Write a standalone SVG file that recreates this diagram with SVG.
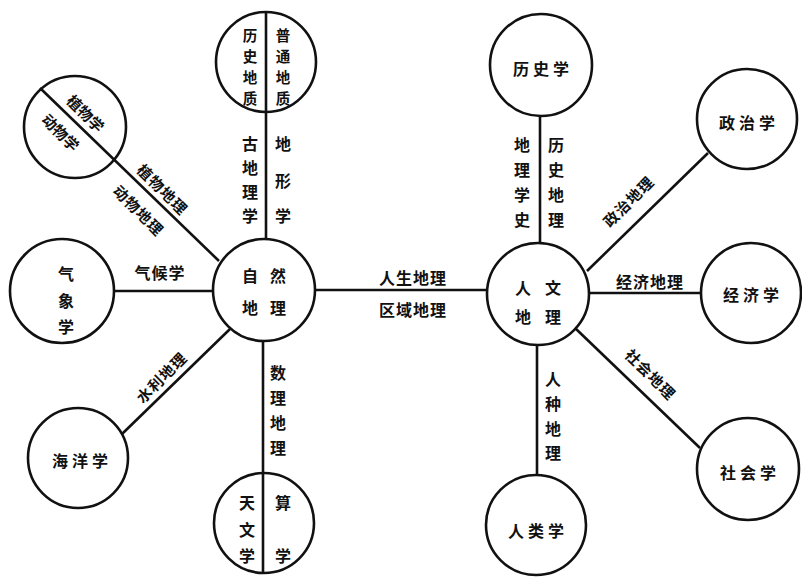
<svg xmlns="http://www.w3.org/2000/svg" width="802" height="577" viewBox="0 0 802 577">
<style>
.n{fill:#fff;stroke:#111;stroke-width:2.6}
.c{stroke:#111;stroke-width:2.6;fill:none}
text{font-family:"Noto Sans CJK SC","Noto Sans CJK JP",sans-serif;font-weight:bold;font-size:16px;fill:#111;text-anchor:middle;dominant-baseline:central}
.h{letter-spacing:4px}
.l{letter-spacing:1px}
.s{font-size:15px}
.t{font-size:14.5px}
</style>
<rect width="802" height="577" fill="#fff"/>
<g id="node-ziran"><circle class="n" cx="264" cy="290" r="51"/>
<text x="250" y="275">自</text><text x="278" y="275">然</text><text x="250" y="307">地</text><text x="278" y="307">理</text></g>
<g id="node-renwen"><circle class="n" cx="538" cy="294" r="51"/>
<text x="523" y="287">人</text><text x="553" y="287">文</text><text x="523" y="316">地</text><text x="553" y="316">理</text></g>
<g id="node-dizhi"><circle class="n" cx="266" cy="62" r="50"/>
<text class="t" x="250" y="34">历</text><text class="t" x="250" y="55">史</text><text class="t" x="250" y="76">地</text><text class="t" x="250" y="97">质</text>
<text class="t" x="283" y="34">普</text><text class="t" x="283" y="55">通</text><text class="t" x="283" y="76">地</text><text class="t" x="283" y="97">质</text></g>
<g id="node-zhiwu"><circle class="n" cx="75" cy="127" r="51"/>
<text class="s" x="86" y="113" transform="rotate(45 86 113)">植物学</text>
<text class="s" x="61" y="132" transform="rotate(45 61 132)">动物学</text></g>
<g id="node-qixiang"><circle class="n" cx="62" cy="291" r="52"/>
<text x="66" y="273">气</text><text x="66" y="300">象</text><text x="66" y="326">学</text></g>
<g id="node-haiyang"><circle class="n" cx="78" cy="458" r="50"/>
<text class="h" x="82" y="460">海洋学</text></g>
<g id="node-tianwen"><circle class="n" cx="264" cy="523" r="50"/>
<text x="247" y="502">天</text><text x="247" y="529">文</text><text x="247" y="555">学</text>
<text x="283" y="502">算</text><text x="283" y="555">学</text></g>
<g id="node-lishi"><circle class="n" cx="541" cy="65" r="51"/>
<text class="h" x="543" y="68">历史学</text></g>
<g id="node-zhengzhi"><circle class="n" cx="747" cy="119" r="50"/>
<text class="h" x="749" y="122">政治学</text></g>
<g id="node-jingji"><circle class="n" cx="751" cy="293" r="50"/>
<text class="h" x="753" y="294">经济学</text></g>
<g id="node-shehui"><circle class="n" cx="748" cy="469" r="51"/>
<text class="h" x="750" y="472">社会学</text></g>
<g id="node-renlei"><circle class="n" cx="536" cy="525" r="50"/>
<text class="h" x="538" y="530">人类学</text></g>
<g id="connectors">
<line class="c" x1="315" y1="290" x2="487" y2="290"/>
<line class="c" x1="266" y1="12" x2="266" y2="239"/>
<line class="c" x1="40" y1="88" x2="219" y2="261"/>
<line class="c" x1="114" y1="291" x2="213" y2="291"/>
<line class="c" x1="122" y1="434" x2="230" y2="329"/>
<line class="c" x1="263" y1="341" x2="263" y2="573"/>
<line class="c" x1="540" y1="116" x2="540" y2="243"/>
<line class="c" x1="708" y1="153" x2="587" y2="271"/>
<line class="c" x1="589" y1="293" x2="701" y2="293"/>
<line class="c" x1="575" y1="328" x2="700" y2="448"/>
<line class="c" x1="537" y1="345" x2="537" y2="475"/>
<text class="l" x="413" y="277">人生地理</text>
<text class="l" x="413" y="309">区域地理</text>
<text class="l" x="160" y="272">气候学</text>
<text class="l" x="650" y="281">经济地理</text>
<text class="s l" x="163" y="189" transform="rotate(45 163 189)">植物地理</text>
<text class="s l" x="139" y="210" transform="rotate(45 139 210)">动物地理</text>
<text class="s l" x="161" y="377" transform="rotate(-45 161 377)">水利地理</text>
<text class="s l" x="628" y="201" transform="rotate(-45 628 201)">政治地理</text>
<text class="s l" x="651" y="374" transform="rotate(45 651 374)">社会地理</text>
<text x="250" y="143">古</text><text x="250" y="167">地</text><text x="250" y="191">理</text><text x="250" y="215">学</text>
<text x="283" y="143">地</text><text x="283" y="180">形</text><text x="283" y="215">学</text>
<text x="278" y="372">数</text><text x="278" y="397">理</text><text x="278" y="422">地</text><text x="278" y="447">理</text>
<text x="522" y="144">地</text><text x="522" y="169">理</text><text x="522" y="194">学</text><text x="522" y="219">史</text>
<text x="556" y="144">历</text><text x="556" y="169">史</text><text x="556" y="194">地</text><text x="556" y="219">理</text>
<text x="553" y="378">人</text><text x="553" y="403">种</text><text x="553" y="428">地</text><text x="553" y="452">理</text>
</g>
</svg>
